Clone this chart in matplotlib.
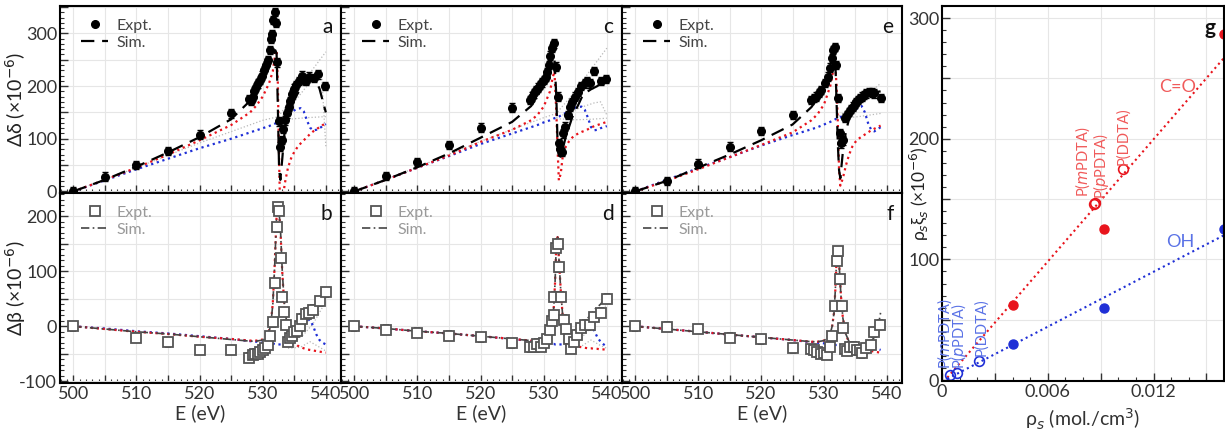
import numpy as np
import matplotlib
matplotlib.use("Agg")
import matplotlib.pyplot as plt
from matplotlib.ticker import MultipleLocator, FuncFormatter
from matplotlib.lines import Line2D

plt.rcParams['font.family'] = ['Lato', 'DejaVu Sans']
plt.rcParams['mathtext.fontset'] = 'dejavusans'

# ---------------- panel a (delta, expt + sim) ----------------
a_E = [500, 505, 510, 515, 520, 525, 527.8, 528.1, 528.4, 528.7, 529.0, 529.3, 529.6, 529.9,
       530.2, 530.5, 530.8, 531.1, 531.3, 531.5, 531.7, 531.9, 532.1, 532.3, 532.6, 532.8,
       533.0, 533.2, 533.5, 533.8, 534.1, 534.4, 534.7, 535.0, 535.3, 535.7, 536.2, 536.8,
       537.3, 538.2, 538.8, 539.8]
a_val = [0, 28, 50, 77, 108, 148, 175, 172, 180, 190, 198, 205, 212, 220, 230, 240, 250, 268,
         290, 298, 325, 341, 320, 245, 133, 85, 98, 118, 135, 148, 160, 172, 185, 195, 202,
         210, 220, 210, 218, 215, 222, 200]
a_grid = [500, 505, 510, 515, 520, 525, 528, 529, 530, 531, 531.6, 532.0, 532.2, 532.4, 532.6,
          532.8, 533.1, 533.5, 534, 534.5, 535, 535.5, 536, 536.5, 537, 537.5, 538, 538.5,
          539, 539.5, 540]
a_sim = [0, 22, 47, 74, 103, 137, 172, 190, 210, 236, 256, 268, 262, 160, 40, 22, 62, 118, 145,
         160, 173, 185, 195, 203, 208, 212, 212, 208, 195, 172, 150]
a_red = [0, 22, 45, 70, 97, 126, 150, 163, 180, 205, 228, 262, 268, 205, 60, -60, -20, 15, 45,
         63, 75, 84, 91, 97, 103, 109, 114, 118, 122, 126, 129]
a_blue = [0, 21, 42, 62, 82, 100, 112, 116, 120, 124, 127, 129, 130, 131, 132, 134, 137, 141,
          146, 150, 154, 157, 158, 152, 135, 121, 116, 117, 120, 124, 128]
a_gray1_E = [500, 510, 520, 530, 532.5, 535, 537.5, 540]
a_gray1 = [0, 45, 92, 135, 142, 185, 225, 265]
a_gray2_E = [532.5, 534, 536, 538, 539.3, 540]
a_gray2 = [135, 155, 185, 215, 228, 85]
a_gray3_E = [532.5, 535, 537, 540]
a_gray3 = [135, 138, 140, 142]

# ---------------- panel c ----------------
c_E = [500, 505, 510, 515, 520, 525, 527.9, 528.2, 528.5, 528.8, 529.1, 529.4, 529.7, 530.0,
       530.3, 530.6, 530.8, 531.0, 531.3, 531.6, 531.9, 532.2, 532.4, 532.6, 532.9, 533.1,
       533.4, 533.8, 534.1, 534.5, 534.9, 535.4, 535.9, 536.5, 536.8, 537.4, 537.9, 539.0,
       539.9]
c_val = [0, 29, 56, 88, 121, 159, 174, 180, 186, 193, 197, 202, 207, 212, 218, 226, 240, 258,
         272, 281, 237, 180, 91, 81, 75, 110, 123, 145, 160, 170, 180, 189, 200, 205, 209, 205,
         229, 210, 213]
c_grid = [500, 505, 510, 515, 520, 525, 528, 529, 530, 531, 531.4, 531.7, 532.0, 532.2, 532.4,
          532.7, 533.0, 533.5, 534, 534.5, 535, 535.5, 536, 536.5, 537, 537.5, 538, 538.5,
          539, 539.5, 540]
c_sim = [0, 22, 46, 72, 102, 132, 162, 180, 203, 228, 242, 253, 180, 90, 68, 66, 80, 104, 122,
         140, 153, 165, 178, 185, 190, 194, 197, 200, 205, 210, 215]
c_red = [0, 22, 45, 68, 94, 117, 135, 145, 161, 190, 215, 228, 150, 80, 21, 34, 65, 85, 95, 102,
         107, 110, 113, 115, 118, 121, 124, 126, 128, 130, 132]
c_blue = [0, 22, 45, 67, 90, 110, 122, 126, 131, 135, 137, 139, 140, 141, 142, 144, 146, 149,
          153, 157, 159, 160, 161, 155, 140, 122, 116, 117, 120, 122, 124]
c_gray1_E = [500, 510, 520, 530, 532, 535, 537.5, 540]
c_gray1 = [0, 46, 95, 140, 148, 190, 232, 272]
c_gray2_E = [532, 534, 536, 538, 539, 540]
c_gray2 = [140, 150, 160, 168, 170, 145]
c_gray3_E = [532, 535, 537.5, 540]
c_gray3 = [138, 136, 137, 139]

# ---------------- panel e ----------------
e_E = [500, 505, 510, 515, 520, 525, 528.0, 528.4, 528.8, 529.2, 529.6, 530.1, 530.6, 531.0,
       531.3, 531.5, 531.7, 531.9, 532.3, 532.5, 532.7, 533.0, 533.3, 533.6, 534.0, 534.3,
       534.6, 534.9, 535.1, 535.4, 535.7, 536.0, 536.3, 536.7, 537.2, 537.6, 538.0, 539.1]
e_val = [0, 20, 53, 85, 115, 145, 174, 177, 180, 187, 193, 206, 218, 235, 253, 269, 274, 240,
         177, 110, 91, 97, 139, 145, 151, 156, 161, 166, 170, 174, 177, 180, 183, 186, 189,
         188, 186, 177]
e_grid = [500, 505, 510, 515, 520, 525, 528, 529, 530, 531, 531.5, 531.8, 532.0, 532.2, 532.4,
          532.6, 533.0, 533.5, 534, 534.5, 535, 535.5, 536, 536.5, 537, 537.5, 538, 538.5, 539]
e_sim = [0, 20, 45, 70, 97, 127, 160, 177, 197, 225, 245, 250, 170, 90, 40, 25, 75, 115, 138,
         152, 163, 170, 177, 182, 185, 187, 188, 189, 190]
e_red = [0, 20, 42, 65, 88, 112, 135, 147, 165, 200, 232, 240, 200, 130, 40, 11, 25, 50, 70, 85,
         94, 100, 104, 108, 112, 116, 119, 122, 125]
e_blue = [0, 22, 44, 65, 87, 107, 118, 122, 127, 132, 135, 137, 138, 139, 140, 141, 143, 146,
          149, 153, 156, 159, 162, 150, 130, 117, 114, 118, 122]
e_gray1_E = [532, 535, 537.5, 539]
e_gray1 = [140, 165, 190, 205]
e_gray2_E = [532, 535.5, 539]
e_gray2 = [138, 142, 148]

# ---------------- panel b (beta) ----------------
b_E = [500, 510, 515, 520, 525, 527.9, 528.4, 528.8, 529.2, 529.6, 530.0, 530.4, 530.8, 531.2,
       531.6, 531.9, 532.2, 532.4, 532.6, 532.9, 533.1, 533.4, 533.7, 534.0, 534.3, 534.6,
       535.0, 535.4, 535.9, 536.3, 536.9, 537.4, 537.9, 539.0, 540.0]
b_val = [0, -21, -29, -43, -43, -57, -52, -50, -50, -47, -43, -39, -34, -18, 7, 78, 180, 216,
         210, 124, 53, 26, 3, -28, -22, -17, -10, -8, 0, 14, 22, 25, 30, 45, 62]
b_grid = [500, 505, 510, 515, 520, 525, 528, 529, 530, 530.5, 531, 531.3, 531.6, 531.9, 532.2,
          532.5, 532.8, 533.1, 533.4, 533.7, 534, 534.5, 535, 535.5, 536, 536.5, 537, 537.5,
          538, 538.5, 539, 539.5, 540]
b_sim = [0, -5, -10, -14, -19, -24, -27, -27, -25, -20, -10, 5, 40, 110, 200, 218, 180, 100, 45,
         15, 0, -15, -22, -20, -10, 0, 10, 18, 25, 32, 40, 48, 55]
b_red = [0, -5, -10, -14, -19, -23, -26, -26, -24, -18, -8, 7, 42, 112, 200, 215, 178, 98, 42,
         12, -5, -22, -30, -35, -38, -40, -42, -43, -44, -45, -46, -47, -48]
b_blue = [0, -4, -9, -13, -18, -23, -27, -28, -30, -31, -31, -32, -32, -32, -33, -33, -33, -33,
          -33, -33, -32, -28, -22, -13, -3, 5, 10, 12, 0, -15, -25, -30, -33]
b_gray1_E = [533.5, 535, 536.5, 538, 539, 540]
b_gray1 = [-33, -28, -15, 5, 25, 45]
b_gray2_E = [534, 536, 537.5, 539, 540]
b_gray2 = [-40, -38, -28, -38, -45]

# ---------------- panel d ----------------
d_E = [500, 505, 510, 515, 520, 525, 527.9, 528.5, 529.0, 529.6, 530.1, 530.6, 531.0, 531.3,
       531.6, 531.7, 531.9, 532.2, 532.5, 532.7, 533.2, 533.5, 534.0, 534.3, 534.8, 535.3,
       535.9, 536.6, 537.4, 538.0, 539.0, 540.0]
d_val = [0, -6, -12, -17, -20, -31, -38, -37, -32, -37, -31, -23, -6, 9, 20, 54, 142, 150, 107,
         54, 12, -5, -23, -41, -28, -15, -3, 3, 3, 17, 25, 50]
d_grid = [500, 505, 510, 515, 520, 525, 528, 529, 530, 530.5, 531, 531.3, 531.6, 531.8, 532.0,
          532.2, 532.4, 532.7, 533.0, 533.5, 534, 534.5, 535, 535.5, 536, 536.5, 537, 537.5,
          538, 538.5, 539, 539.5, 540]
d_sim = [0, -4, -9, -13, -18, -23, -26, -26, -24, -18, -8, 8, 35, 80, 150, 162, 125, 65, 20,
         -12, -28, -30, -20, -8, 0, 8, 15, 22, 30, 35, 40, 47, 55]
d_red = [0, -4, -9, -13, -18, -23, -26, -26, -24, -18, -8, 8, 35, 80, 150, 162, 125, 65, 20,
         -12, -28, -32, -35, -37, -38, -39, -40, -40, -41, -41, -42, -42, -43]
d_blue = [0, -4, -9, -13, -18, -23, -27, -28, -30, -31, -32, -32, -32, -33, -33, -33, -33, -33,
          -33, -33, -33, -30, -22, -12, -3, 3, 5, 3, -8, -20, -28, -33, -37]
d_gray1_E = [533.5, 535, 536.5, 538, 539, 540]
d_gray1 = [-33, -28, -15, 5, 25, 40]
d_gray2_E = [534, 536, 537.5, 539, 540]
d_gray2 = [-38, -36, -25, -35, -40]

# ---------------- panel f ----------------
f_E = [500, 505, 510, 515, 520, 525, 527.9, 528.4, 528.9, 529.5, 530.0, 530.5, 530.9, 531.2,
       531.7, 532.0, 532.2, 532.5, 532.8, 533.1, 533.3, 533.7, 534.2, 534.7, 535.3, 535.8,
       536.1, 536.6, 537.5, 538.0, 538.9]
f_val = [0, -1, -5, -21, -24, -40, -42, -43, -47, -50, -49, -52, -37, -18, 36, 118, 136, 85, 36,
         -3, -42, -45, -37, -37, -43, -43, -49, -40, -34, -11, 3]
f_grid = [500, 505, 510, 515, 520, 525, 528, 529, 530, 530.5, 531, 531.3, 531.6, 531.8, 532.0,
          532.2, 532.4, 532.7, 533.0, 533.5, 534, 534.5, 535, 535.5, 536, 536.5, 537, 537.5,
          538, 538.5, 539]
f_sim = [0, -5, -10, -15, -20, -25, -28, -28, -26, -22, -13, 0, 25, 65, 120, 138, 115, 55, 15,
         -15, -28, -32, -34, -35, -35, -34, -31, -27, -20, -8, 25]
f_red = [0, -5, -10, -15, -20, -25, -28, -28, -26, -22, -13, 0, 25, 65, 120, 138, 115, 55, 15,
         -15, -30, -35, -38, -40, -42, -43, -44, -45, -46, -47, -48]
f_blue = [0, -5, -10, -15, -20, -25, -29, -30, -31, -32, -33, -33, -33, -34, -34, -34, -34, -35,
          -35, -35, -36, -36, -37, -37, -37, -36, -34, -33, -38, -41, -43]

# ---------------- panel g ----------------
g_co_x = [0.004, 0.0092, 0.016]
g_co_y = [62, 125, 287]
g_oh_x = [0.004, 0.0092, 0.016]
g_oh_y = [30, 60, 125]
g_co_open_x = [0.00860, 0.00868, 0.01028]
g_co_open_y = [146, 147, 174.5]
g_oh_open_x = [0.00045, 0.00084, 0.0021]
g_oh_open_y = [4, 5.5, 15.7]
g_co_fit_x = [0.0003, 0.016]
g_co_fit_y = [2, 267]
g_oh_fit_x = [0.0003, 0.016]
g_oh_fit_y = [1, 120]

RED = '#e8141c'
BLUE = '#1f2fd6'
GRAY = '#b8b8b8'
W, H = 1225, 429


def box(l, t, r, b):
    return [l / W, 1 - b / H, (r - l) / W, (b - t) / H]


def style(ax, xlab, ylab, xmaj, xlabstep, xmin, ymaj, ylabstep, ymin):
    ax.xaxis.set_major_locator(MultipleLocator(xmaj))
    ax.xaxis.set_minor_locator(MultipleLocator(xmin))
    ax.yaxis.set_major_locator(MultipleLocator(ymaj))
    ax.yaxis.set_minor_locator(MultipleLocator(ymin))
    ax.tick_params(which='both', direction='in', top=False, right=False, labelsize=13,
                   colors='#333333', labelcolor='#333333', pad=2)
    ax.tick_params(which='major', length=6, width=1)
    ax.tick_params(which='minor', length=3, width=0.8)
    ax.grid(True, which='major', color='#e6e6e6', lw=0.8)
    ax.set_axisbelow(True)
    for s in ax.spines.values():
        s.set_linewidth(1.5)

    def fx(v, p):
        if not xlab:
            return ''
        k = round(v / xlabstep)
        return ('%g' % v) if abs(v - k * xlabstep) < 1e-9 else ''

    def fy(v, p):
        if not ylab:
            return ''
        k = round(v / ylabstep)
        return ('%d' % round(v)) if abs(v - k * ylabstep) < 1e-9 else ''
    ax.xaxis.set_major_formatter(FuncFormatter(fx))
    ax.yaxis.set_major_formatter(FuncFormatter(fy))


def legend(ax, handles, color):
    leg = ax.legend(handles, ['Expt.', 'Sim.'], loc='upper left', frameon=False,
                    fontsize=11.5, handlelength=1.7, handletextpad=0.5, borderaxespad=0.4,
                    labelspacing=0.15, bbox_to_anchor=(0.03, 1.0))
    for t in leg.get_texts():
        t.set_color(color)


fig = plt.figure(figsize=(W / 100, H / 100), dpi=100)

top = [('a', a_E, a_val, a_grid, a_sim, a_red, a_blue,
        [(a_gray1_E, a_gray1), (a_gray2_E, a_gray2), (a_gray3_E, a_gray3)], (60, 341)),
       ('c', c_E, c_val, c_grid, c_sim, c_red, c_blue,
        [(c_gray1_E, c_gray1), (c_gray2_E, c_gray2), (c_gray3_E, c_gray3)], (341, 622)),
       ('e', e_E, e_val, e_grid, e_sim, e_red, e_blue,
        [(e_gray1_E, e_gray1), (e_gray2_E, e_gray2)], (622, 902))]

for i, (lab, E, val, grid, sim, red, blue, grays, (l, r)) in enumerate(top):
    ax = fig.add_axes(box(l, 6, r, 193))
    style(ax, False, i == 0, 5, 10, 1, 50, 100, 10)
    for gx, gy in grays:
        ax.plot(gx, gy, ':', color=GRAY, lw=0.9)
    ax.plot(grid, blue, ':', color=BLUE, lw=1.6)
    ax.plot(grid, red, ':', color=RED, lw=1.6)
    ax.plot(grid, sim, color='black', lw=1.6, dashes=(6, 3.5))
    ax.errorbar(E, val, yerr=8, fmt='o', color='black', ms=5.5, elinewidth=1, capsize=2.5,
                capthick=1)
    ax.set_xlim(497.9, 542.4)
    ax.set_ylim(-3, 352)
    ax.text(0.97, 0.94, lab, transform=ax.transAxes, ha='right', va='top', fontsize=15,
            color='#111111')
    legend(ax, [Line2D([], [], marker='o', ls='none', color='black', ms=5.5),
                Line2D([], [], color='black', lw=1.6, dashes=(6, 3.5))], '#444444')
    if i == 0:
        ax.set_ylabel('Δδ (×10$^{-6}$)', fontsize=14, color='#222222')
        ax.yaxis.set_label_coords(-0.115, 0.5)

bottom = [('b', b_E, b_val, b_grid, b_sim, b_red, b_blue,
           [(b_gray1_E, b_gray1), (b_gray2_E, b_gray2)], (60, 341)),
          ('d', d_E, d_val, d_grid, d_sim, d_red, d_blue,
           [(d_gray1_E, d_gray1), (d_gray2_E, d_gray2)], (341, 622)),
          ('f', f_E, f_val, f_grid, f_sim, f_red, f_blue, [], (622, 902))]

for i, (lab, E, val, grid, sim, red, blue, grays, (l, r)) in enumerate(bottom):
    ax = fig.add_axes(box(l, 193, r, 383))
    style(ax, True, i == 0, 5, 10, 1, 50, 100, 10)
    for gx, gy in grays:
        ax.plot(gx, gy, ':', color=GRAY, lw=0.9)
    ax.plot(grid, blue, ':', color=BLUE, lw=1.6)
    ax.plot(grid, red, ':', color=RED, lw=1.6)
    ax.plot(grid, sim, color='#444444', lw=1.2, dashes=(5, 2, 1, 2))
    ax.errorbar(E, val, yerr=8, fmt='s', mfc='white', mec='#555555', ecolor='#555555',
                ms=6.5, mew=1.3, elinewidth=1, capsize=2.5, capthick=1)
    ax.set_xlim(497.9, 542.4)
    ax.set_ylim(-103, 242)
    ax.text(0.97, 0.94, lab, transform=ax.transAxes, ha='right', va='top', fontsize=15,
            color='#111111')
    legend(ax, [Line2D([], [], marker='s', ls='none', mfc='white', mec='#555555', ms=6.5,
                       mew=1.3),
                Line2D([], [], color='#444444', lw=1.2, dashes=(5, 2, 1, 2))], '#999999')
    ax.set_xlabel('E (eV)', fontsize=14, color='#333333', labelpad=2)
    if i == 0:
        ax.set_ylabel('Δβ (×10$^{-6}$)', fontsize=14, color='#222222')
        ax.yaxis.set_label_coords(-0.115, 0.5)

# ---------------- panel g ----------------
ax = fig.add_axes(box(942, 6, 1224, 381))
style(ax, True, True, 0.003, 0.006, 0.001, 50, 100, 10)
ax.xaxis.set_major_formatter(FuncFormatter(
    lambda v, p: ('0' if abs(v) < 1e-12 else '%g' % v) if abs(v / 0.006 - round(v / 0.006)) < 1e-6 else ''))
ax.plot(g_co_fit_x, g_co_fit_y, ':', color=RED, lw=1.5)
ax.plot(g_oh_fit_x, g_oh_fit_y, ':', color=BLUE, lw=1.5)
ax.plot(g_co_x, g_co_y, 'o', color=RED, ms=6.5, clip_on=False)
ax.plot(g_oh_x, g_oh_y, 'o', color=BLUE, ms=6.5, clip_on=False)
ax.plot(g_co_open_x, g_co_open_y, 'o', mfc='none', mec=RED, ms=7, mew=1.2)
ax.plot(g_oh_open_x, g_oh_open_y, 'o', mfc='none', mec=BLUE, ms=7, mew=1.2)
ax.set_xlim(0, 0.016)
ax.set_ylim(-0.8, 310)
LRED = '#f05a5a'
LBLUE = '#5a72e6'
ax.text(0.01335, 243, 'C=O', color=LRED, fontsize=13, ha='center', va='center')
ax.text(0.01354, 114, 'OH', color=LBLUE, fontsize=13, ha='center', va='center')
ax.text(0.0080, 152, 'P($m$PDTA)', color=LRED, fontsize=10.5, rotation=90, ha='center', va='bottom')
ax.text(0.0090, 150, 'P($p$PDTA)', color=LRED, fontsize=10.5, rotation=90, ha='center', va='bottom')
ax.text(0.01028, 178, 'P(DDTA)', color=LRED, fontsize=10.5, rotation=90, ha='center', va='bottom')
ax.text(0.00017, 9, 'P($m$PDTA)', color=LBLUE, fontsize=10.5, rotation=90, ha='center', va='bottom')
ax.text(0.00095, 9, 'P($p$PDTA)', color=LBLUE, fontsize=10.5, rotation=90, ha='center', va='bottom')
ax.text(0.00225, 20, 'P(DDTA)', color=LBLUE, fontsize=10.5, rotation=90, ha='center', va='bottom')
ax.text(0.0155, 292, 'g', ha='right', va='center', fontsize=15,
        fontweight='bold', color='#111111')
ax.set_ylabel('ρ$_s$ξ$_s$ (×10$^{-6}$)', fontsize=12.5, color='#222222')
ax.yaxis.set_label_coords(-0.04, 0.5)
ax.set_xlabel('ρ$_s$ (mol./cm$^3$)', fontsize=14, color='#333333', labelpad=5)

fig.savefig('out.png', dpi=100)
